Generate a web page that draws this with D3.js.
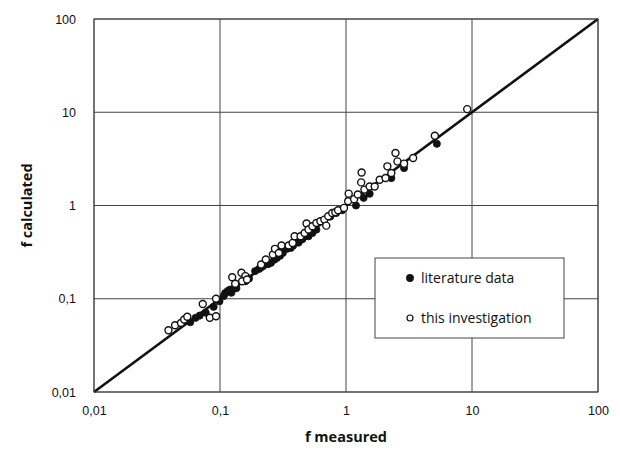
<!DOCTYPE html>
<html lang="en">
<head>
<meta charset="UTF-8">
<title>f calculated vs f measured</title>
<script src="https://d3js.org/d3.v7.min.js"></script>
<style>
    body { margin: 0; background: #fff; font-family: "Open Sans", Arial, sans-serif; }
    .grid line { stroke: #444; stroke-width: 1; }
    .tick text { fill: #111; font-size: 12.5px; }
</style>
</head>
<body>
<div id="chart"></div>
<script>
// literature data: [f measured, f calculated]
const literature = [
    [0.058, 0.056], [0.064, 0.0625], [0.069, 0.066], [0.077, 0.071], [0.089, 0.082],
    [0.099, 0.094], [0.107, 0.107], [0.11, 0.115], [0.115, 0.121], [0.12, 0.125],
    [0.123, 0.116], [0.128, 0.128], [0.135, 0.13], [0.159, 0.154], [0.17, 0.165],
    [0.19, 0.198], [0.204, 0.209], [0.21, 0.215], [0.22, 0.224], [0.24, 0.235],
    [0.254, 0.243], [0.27, 0.262], [0.283, 0.274], [0.3, 0.29], [0.315, 0.31],
    [0.339, 0.343], [0.364, 0.351], [0.38, 0.37], [0.406, 0.414], [0.42, 0.4],
    [0.44, 0.43], [0.452, 0.438], [0.48, 0.47], [0.504, 0.468], [0.541, 0.508],
    [0.582, 0.552], [0.75, 0.76], [0.836, 0.832], [0.931, 0.889], [1.2, 1.0],
    [1.38, 1.21], [1.54, 1.34], [2.29, 1.97], [2.89, 2.52], [5.26, 4.59]
];

// this investigation: [f measured, f calculated]
const investigation = [
    [0.039, 0.046], [0.044, 0.052], [0.049, 0.055], [0.052, 0.06], [0.055, 0.064],
    [0.073, 0.088], [0.083, 0.0625], [0.093, 0.065], [0.093, 0.1], [0.125, 0.17],
    [0.132, 0.145], [0.148, 0.19], [0.159, 0.175], [0.15, 0.154], [0.164, 0.161],
    [0.212, 0.233], [0.231, 0.264], [0.263, 0.298], [0.273, 0.343], [0.293, 0.31],
    [0.308, 0.372], [0.351, 0.372], [0.377, 0.397], [0.391, 0.468], [0.436, 0.468],
    [0.469, 0.508], [0.486, 0.64], [0.504, 0.552], [0.541, 0.599], [0.582, 0.65],
    [0.626, 0.678], [0.673, 0.706], [0.697, 0.608], [0.723, 0.766], [0.777, 0.832],
    [0.823, 0.845], [0.865, 0.889], [0.964, 0.942], [1.04, 1.11], [1.05, 1.34],
    [1.16, 1.17], [1.24, 1.31], [1.33, 2.26], [1.32, 1.77], [1.4, 1.48],
    [1.54, 1.6], [1.69, 1.6], [1.85, 1.89], [2.06, 1.97], [2.13, 2.63],
    [2.29, 2.23], [2.47, 3.65], [2.56, 2.97], [2.89, 2.81], [3.41, 3.23],
    [5.07, 5.6], [9.16, 10.8]
];

const tickValues = [0.01, 0.1, 1, 10, 100];
const tickLabels = ["0,01", "0,1", "1", "10", "100"];
const legendLabels = ["literature data", "this investigation"];

const width = 620, height = 455;
const margin = { top: 19, right: 22, bottom: 63, left: 94 };
const w = width - margin.left - margin.right;
const h = height - margin.top - margin.bottom;

const svg = d3.select("#chart").append("svg")
    .attr("width", width)
    .attr("height", height);

const g = svg.append("g")
    .attr("transform", `translate(${margin.left},${margin.top})`);

const x = d3.scaleLog().domain([0.01, 100]).range([0, w]);
const y = d3.scaleLog().domain([0.01, 100]).range([h, 0]);

// grid
const grid = g.append("g").attr("class", "grid");
grid.selectAll(".vx").data(tickValues).enter().append("line")
    .attr("x1", d => x(d)).attr("x2", d => x(d))
    .attr("y1", 0).attr("y2", h);
grid.selectAll(".hy").data(tickValues).enter().append("line")
    .attr("x1", 0).attr("x2", w)
    .attr("y1", d => y(d)).attr("y2", d => y(d));

// axes (labels only)
const fmt = d => tickLabels[tickValues.indexOf(d)];
g.append("g")
    .attr("transform", `translate(0,${h})`)
    .call(d3.axisBottom(x).tickValues(tickValues).tickFormat(fmt).tickSize(0).tickPadding(14))
    .call(a => a.select(".domain").remove());
g.append("g")
    .call(d3.axisLeft(y).tickValues(tickValues).tickFormat(fmt).tickSize(0).tickPadding(18))
    .call(a => a.select(".domain").remove());

// 1:1 line
g.append("line")
    .attr("x1", x(0.01)).attr("y1", y(0.01))
    .attr("x2", x(100)).attr("y2", y(100))
    .attr("stroke", "#111")
    .attr("stroke-width", 2.6);

// points
g.append("g").selectAll("circle").data(literature).enter().append("circle")
    .attr("cx", d => x(d[0])).attr("cy", d => y(d[1]))
    .attr("r", 3.6)
    .attr("fill", "#111")
    .attr("stroke", "#111")
    .attr("stroke-width", 0.8);

g.append("g").selectAll("circle").data(investigation).enter().append("circle")
    .attr("cx", d => x(d[0])).attr("cy", d => y(d[1]))
    .attr("r", 3.5)
    .attr("fill", "#fff")
    .attr("stroke", "#111")
    .attr("stroke-width", 1.4);

// legend
const legend = svg.append("g").attr("transform", "translate(375,258)");
legend.append("rect")
    .attr("width", 189).attr("height", 80)
    .attr("fill", "#fff")
    .attr("stroke", "#444")
    .attr("stroke-width", 1);
legendLabels.forEach((lab, i) => {
    const ly = 20 + i * 40;
    legend.append("circle")
        .attr("cx", 35).attr("cy", ly)
        .attr("r", i === 0 ? 3.3 : 3)
        .attr("fill", i === 0 ? "#111" : "#fff")
        .attr("stroke", "#111")
        .attr("stroke-width", 1.2);
    legend.append("text")
        .attr("x", 46).attr("y", ly)
        .attr("dy", "0.35em")
        .attr("fill", "#111")
        .style("font-size", "14px")
        .text(lab);
});

// axis titles
svg.append("text")
    .attr("x", margin.left + w / 2).attr("y", 442)
    .attr("text-anchor", "middle")
    .attr("fill", "#111")
    .style("font-size", "14.5px").style("font-weight", "bold")
    .text("f measured");
svg.append("text")
    .attr("transform", `translate(32,${margin.top + h / 2}) rotate(-90)`)
    .attr("text-anchor", "middle")
    .attr("fill", "#111")
    .style("font-size", "14.5px").style("font-weight", "bold")
    .text("f calculated");

// plot border on top
g.append("rect")
    .attr("width", w).attr("height", h)
    .attr("fill", "none")
    .attr("stroke", "#444")
    .attr("stroke-width", 1);
</script>
</body>
</html>
